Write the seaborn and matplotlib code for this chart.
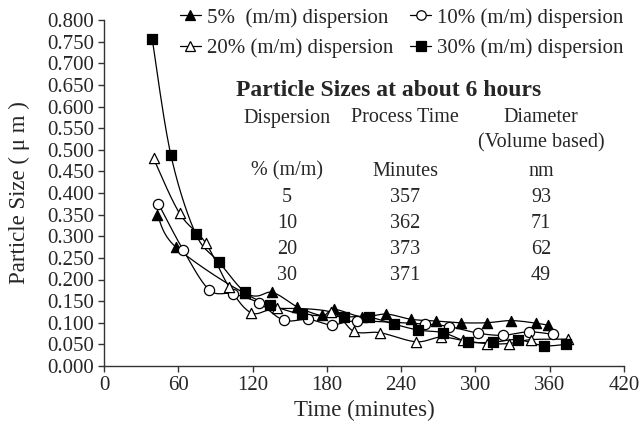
import numpy as np
import pandas as pd
import matplotlib
matplotlib.use("Agg")
import matplotlib.pyplot as plt
from matplotlib.lines import Line2D
import seaborn as sns

# ---- data ----
t5 = [43, 58, 114, 136, 156, 176, 186, 208, 228, 248, 268, 288, 309, 329, 349, 359]
v5 = [0.350, 0.275, 0.168, 0.170, 0.137, 0.117, 0.131, 0.114, 0.120, 0.108, 0.104, 0.100, 0.100, 0.105, 0.099, 0.094]

t10 = [44, 64, 85, 104, 125, 145, 165, 184, 204, 259, 279, 302, 322, 343, 363]
v10 = [0.375, 0.268, 0.176, 0.167, 0.146, 0.106, 0.108, 0.095, 0.104, 0.097, 0.091, 0.076, 0.071, 0.079, 0.073]

t20 = [40, 61, 82, 101, 119, 140, 183, 202, 223, 252, 272, 290, 309, 327, 345, 375]
v20 = [0.480, 0.353, 0.285, 0.183, 0.123, 0.133, 0.125, 0.080, 0.077, 0.056, 0.067, 0.059, 0.052, 0.052, 0.061, 0.062]

t30 = [39, 54, 74, 93, 114, 134, 160, 194, 214, 234, 254, 274, 294, 314, 334, 355, 373]
v30 = [0.755, 0.488, 0.306, 0.240, 0.170, 0.142, 0.120, 0.114, 0.113, 0.097, 0.083, 0.077, 0.056, 0.055, 0.061, 0.047, 0.050]

series_labels = ["5%  (m/m) dispersion", "10% (m/m) dispersion",
                 "20% (m/m) dispersion", "30% (m/m) dispersion"]

table_title = "Particle Sizes at about 6 hours"
table_header = ["Dispersion", "Process Time", "Diameter"]
table_header2 = ["", "", "(Volume based)"]
table_units = ["% (m/m)", "Minutes", "nm"]
disp_col = ["5", "10", "20", "30"]
time_col = ["357", "362", "373", "371"]
diam_col = ["93", "71", "62", "49"]

x_ticks = [0, 60, 120, 180, 240, 300, 360, 420]
y_ticks = [round(0.05 * i, 3) for i in range(17)]

# ---- style ----
sns.set_style("ticks")
plt.rcParams["font.family"] = ["Liberation Serif", "DejaVu Serif"]

W, H = 643, 428
fig = plt.figure(figsize=(W / 100, H / 100), dpi=100)
ax = fig.add_axes([104 / W, 1 - 366 / H, 520 / W, 346 / H])


def smooth(x, y, n=16):
    """Excel-like smoothed line (Bezier with Catmull-Rom control points)."""
    P = np.column_stack([x, y]).astype(float)
    out = []
    for i in range(len(P) - 1):
        p0 = P[i - 1] if i > 0 else P[i]
        p1, p2 = P[i], P[i + 1]
        p3 = P[i + 2] if i + 2 < len(P) else P[i + 1]
        c1 = p1 + (p2 - p0) / 6.0
        c2 = p2 - (p3 - p1) / 6.0
        s = np.linspace(0, 1, n, endpoint=(i == len(P) - 2))[:, None]
        seg = ((1 - s) ** 3) * p1 + 3 * ((1 - s) ** 2) * s * c1 + 3 * (1 - s) * s ** 2 * c2 + s ** 3 * p2
        out.append(seg)
    out = np.vstack(out)
    return out[:, 0], out[:, 1]


specs = [
    (t5, v5, "^", "black"),
    (t10, v10, "o", "white"),
    (t20, v20, "^", "white"),
    (t30, v30, "s", "black"),
]

for t, v, mk, fc in specs:
    xs, ys = smooth(t, v)
    sns.lineplot(x=xs, y=ys, ax=ax, sort=False, estimator=None, color="black",
                 linewidth=0.9, legend=False)
for t, v, mk, fc in specs:
    df = pd.DataFrame({"t": t, "v": v})
    sz = 48 if mk == "s" else 54
    sns.scatterplot(data=df, x="t", y="v", ax=ax, marker=mk, s=sz, color=fc,
                    edgecolor="black", linewidth=0.9, legend=False, zorder=3)

ax.set_xlim(0, 420)
ax.set_ylim(0, 0.8)
ax.set_xticks(x_ticks)
ax.set_yticks(y_ticks)
ax.set_yticklabels([f"{v:.3f}" for v in y_ticks])
ax.tick_params(axis="both", direction="out", length=4, width=1, labelsize=15,
               pad=3, color="#333333")
for sp in ["top", "right"]:
    ax.spines[sp].set_visible(False)
for sp in ["left", "bottom"]:
    ax.spines[sp].set_color("#333333")
    ax.spines[sp].set_linewidth(1.0)

ax.set_xlabel("Time (minutes)", fontsize=16.5)
ax.set_ylabel("Particle Size ( \u03bc m )", fontsize=16.5)
ax.xaxis.set_label_coords(0.5, -0.098)
ax.yaxis.set_label_coords(-0.142, 0.5)

# ---- legend ----
order = [0, 2, 1, 3]
handles = []
for i in order:
    t, v, mk, fc = specs[i]
    handles.append(Line2D([], [], color="black", linewidth=0.9, marker=mk,
                          markerfacecolor=fc, markeredgecolor="black",
                          markersize=6.8, markeredgewidth=0.9))
fig.legend(handles=handles, labels=[series_labels[i] for i in order],
           loc="upper left", bbox_to_anchor=(180 / W, 1 - 8 / H), ncol=2,
           frameon=False, fontsize=15, handlelength=1.0, handletextpad=0.3,
           columnspacing=0.8, labelspacing=0.5, borderpad=0, borderaxespad=0)

# ---- inset table text ----
def ft(x, y, s, **kw):
    fig.text(x / W, 1 - y / H, s, ha="center", va="center", **kw)

ft(389, 91, table_title, fontsize=17, fontweight="bold")
cols_x = [287, 405, 541]
for cx, s in zip(cols_x, table_header):
    ft(cx, 118, s, fontsize=14.5)
for cx, s in zip(cols_x, table_header2):
    if s:
        ft(cx, 143, s, fontsize=14.5)
for cx, s in zip(cols_x, table_units):
    ft(cx, 171, s, fontsize=14.5)
rows_y = [198, 224, 250, 276]
for ry, a, b, c in zip(rows_y, disp_col, time_col, diam_col):
    ft(cols_x[0], ry, a, fontsize=14.5)
    ft(cols_x[1], ry, b, fontsize=14.5)
    ft(cols_x[2], ry, c, fontsize=14.5)

fig.savefig("out.png", dpi=100)
